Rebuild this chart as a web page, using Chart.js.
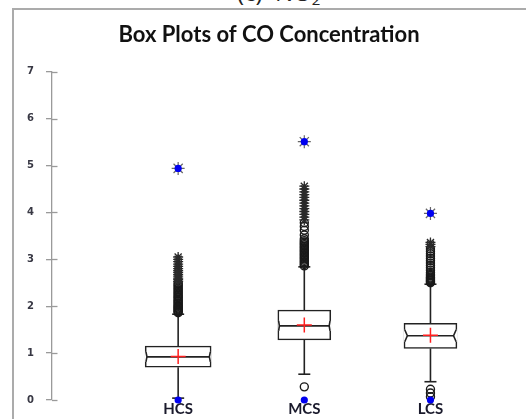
<!DOCTYPE html>
<html>
<head>
<meta charset="utf-8">
<script src="https://cdn.jsdelivr.net/npm/chart.js@4.4.1/dist/chart.umd.min.js"></script>
<style>
  html, body { margin: 0; padding: 0; background: #fff; overflow: hidden; }
  #wrap { position: relative; width: 526px; height: 419px; overflow: hidden; }
  #frame { position: absolute; left: 12px; top: 8px; width: 620px; height: 520px;
           border-left: 2px solid #ababab; border-top: 2px solid #ababab; }
  #caption { position: absolute; left: 237px; top: -20px; font: 24px "Open Sans", sans-serif;
             color: #222; white-space: nowrap; line-height: 24px; }
  #caption sub { font-size: 15px; vertical-align: -4px; }
  canvas { position: absolute; left: 0; top: 0; }
</style>
</head>
<body>
<div id="wrap">
  <div id="caption">(c)&nbsp;&nbsp;NO<sub>2</sub></div>
  <div id="frame"></div>
  <canvas id="c" width="526" height="419"></canvas>
</div>
<script>
// Site categories
const categories = ['HCS', 'MCS', 'LCS'];

// Box statistics for CO concentration (ppm)
const q1          = [0.70, 1.28, 1.10];
const median      = [0.92, 1.58, 1.37];
const q3          = [1.15, 1.92, 1.635];
const mean        = [0.93, 1.60, 1.38];
const whiskerLow  = [0.04, 0.55, 0.39];
const whiskerHigh = [1.83, 2.84, 2.47];
const minimum     = [0.00, 0.00, 0.00];
const maximum     = [4.94, 5.51, 3.98];

// Outliers beyond 1.5 IQR (circles)
const outliersHCS = [1.86, 1.88, 1.90, 1.92, 1.94, 1.96, 1.98, 2.00, 2.02, 2.05, 2.07, 2.10, 2.12,
                     2.15, 2.18, 2.20, 2.23, 2.26, 2.29, 2.32, 2.35, 2.38, 2.41, 2.44, 2.47, 2.50];
const outliersMCS = [0.28, 2.86, 2.89, 2.92, 2.95, 2.98, 3.01, 3.04, 3.07, 3.10, 3.13, 3.16, 3.19,
                     3.22, 3.25, 3.28, 3.31, 3.34, 3.37, 3.40, 3.44, 3.52, 3.62, 3.70, 3.78];
const outliersLCS = [0.07, 0.15, 0.23, 2.50, 2.52, 2.54, 2.56, 2.58, 2.60, 2.62, 2.65, 2.68, 2.72,
                     2.77, 2.82, 2.87, 2.92, 2.97, 3.02, 3.07, 3.12, 3.17, 3.22];

// Far outliers beyond 3 IQR (asterisks)
const farHCS = [2.53, 2.57, 2.60, 2.64, 2.68, 2.72, 2.76, 2.80, 2.85, 2.90, 2.95, 3.00, 3.05];
const farMCS = [3.84, 3.90, 3.96, 4.02, 4.08, 4.14, 4.20, 4.26, 4.32, 4.38, 4.44, 4.50, 4.56];
const farLCS = [3.27, 3.32, 3.36];

// Y-axis tick values
const yTicks = [0, 1, 2, 3, 4, 5, 6, 7];

// Drawing style
const INK = '#222';
const boxWidths = [66, 53, 53];      // px
const notchDepth = [1.0, 0.8, 2.6];  // px
const notchHalf = [5, 5, 6];         // px
const capHalf = 6;                   // px

const pos = i => i + 1;
const pts = (vals, i) => vals.map(v => ({ x: pos(i), y: v }));

const boxParts = {
  id: 'boxParts',
  afterDatasetDraw(chart, args) {
    if (args.index !== 0) return;
    const { ctx, scales: { x, y } } = chart;
    ctx.save();
    ctx.strokeStyle = INK;
    ctx.lineWidth = 1.6;
    const seg = (x1, y1, x2, y2) => { ctx.beginPath(); ctx.moveTo(x1, y1); ctx.lineTo(x2, y2); ctx.stroke(); };
    categories.forEach((c, i) => {
      const px = x.getPixelForValue(pos(i));
      const yq1 = y.getPixelForValue(q1[i]);
      const yq3 = y.getPixelForValue(q3[i]);
      const ymed = y.getPixelForValue(median[i]);
      const yhi = y.getPixelForValue(whiskerHigh[i]);
      const ylo = y.getPixelForValue(whiskerLow[i]);
      // whiskers and caps
      seg(px, yq3, px, yhi);
      seg(px - capHalf, yhi, px + capHalf, yhi);
      seg(px, yq1, px, ylo);
      seg(px - capHalf, ylo, px + capHalf, ylo);
      // notch around the median
      const edge = boxWidths[i] / 2 - 0.8;
      const d = notchDepth[i], h = notchHalf[i];
      ctx.fillStyle = '#fff';
      ctx.fillRect(px - edge - 1.1, ymed - h, 2.3, 2 * h);
      ctx.fillRect(px + edge - 1.2, ymed - h, 2.3, 2 * h);
      ctx.beginPath();
      ctx.moveTo(px - edge, ymed - h); ctx.lineTo(px - edge + d, ymed); ctx.lineTo(px - edge, ymed + h);
      ctx.moveTo(px + edge, ymed - h); ctx.lineTo(px + edge - d, ymed); ctx.lineTo(px + edge, ymed + h);
      ctx.stroke();
      // median
      seg(px - edge + d, ymed, px + edge - d, ymed);
    });
    ctx.restore();
  }
};

// Tick marks cross the axis: add the inner half
const innerTicks = {
  id: 'innerTicks',
  afterDraw(chart) {
    const { ctx, scales: { y } } = chart;
    ctx.save();
    ctx.strokeStyle = '#9a9a9a';
    ctx.lineWidth = 1.3;
    yTicks.forEach(v => {
      const py = Math.round(y.getPixelForValue(v)) + 0.5;
      ctx.beginPath(); ctx.moveTo(y.right, py); ctx.lineTo(y.right + 5.5, py); ctx.stroke();
    });
    ctx.restore();
  }
};

const pointBase = { type: 'scatter', clip: false, pointHoverRadius: 0 };

new Chart(document.getElementById('c'), {
  type: 'bar',
  data: {
    datasets: [
      { type: 'bar', order: 10, data: [{ x: pos(0), y: [q1[0], q3[0]] }],
        barThickness: boxWidths[0], grouped: false, backgroundColor: '#fff',
        borderColor: INK, borderWidth: 1.6, borderSkipped: false },
      { type: 'bar', order: 10, data: [{ x: pos(1), y: [q1[1], q3[1]] }, { x: pos(2), y: [q1[2], q3[2]] }],
        barThickness: boxWidths[1], grouped: false, backgroundColor: '#fff',
        borderColor: INK, borderWidth: 1.6, borderSkipped: false },
      { ...pointBase, order: 4,
        data: [...pts(outliersHCS, 0), ...pts(outliersMCS, 1), ...pts(outliersLCS, 2)],
        pointStyle: 'circle', pointRadius: 4, pointBorderWidth: 1.4,
        pointBorderColor: '#1a1a1a', pointBackgroundColor: 'rgba(0,0,0,0)' },
      { ...pointBase, order: 3,
        data: [...pts(farHCS, 0), ...pts(farMCS, 1), ...pts(farLCS, 2)],
        pointStyle: 'star', pointRadius: 5, pointBorderWidth: 1.3, pointBorderColor: '#2a2a2a' },
      { ...pointBase, order: 2,
        data: categories.map((c, i) => ({ x: pos(i), y: mean[i] })),
        pointStyle: 'cross', pointRadius: 7.5, pointBorderWidth: 1.5, pointBorderColor: '#ff1f1f' },
      { ...pointBase, order: 1,
        data: categories.map((c, i) => ({ x: pos(i), y: maximum[i] })),
        pointStyle: 'star', pointRadius: 6.5, pointBorderWidth: 1.2, pointBorderColor: '#666' },
      { ...pointBase, order: 0,
        data: [...categories.map((c, i) => ({ x: pos(i), y: maximum[i] })),
               ...categories.map((c, i) => ({ x: pos(i), y: minimum[i] }))],
        pointStyle: 'circle', pointRadius: 3.6, pointBorderWidth: 0,
        pointBackgroundColor: '#0000f0' }
    ]
  },
  options: {
    responsive: false,
    animation: false,
    devicePixelRatio: 1,
    layout: { padding: { left: 12, right: 0, top: 0, bottom: 0 } },
    plugins: {
      legend: { display: false },
      tooltip: { enabled: false },
      title: {
        display: true,
        text: 'Box Plots of CO Concentration',
        color: '#111',
        font: { family: 'Lato', size: 22, weight: 'bold' },
        lineHeight: 1.2,
        padding: { top: 22, bottom: 23.4 }
      }
    },
    scales: {
      x: {
        type: 'linear', min: 0, max: 3.686, offset: false,
        grid: { display: false, drawTicks: false },
        border: { display: false },
        afterBuildTicks: s => { s.ticks = categories.map((c, i) => ({ value: pos(i) })); },
        afterFit: s => { s.height = 19; },
        ticks: {
          autoSkip: false, maxRotation: 0, padding: 0, color: '#1a1a2c',
          font: { family: 'Lato', size: 15, weight: 'bold' },
          callback: v => categories[v - 1] ?? ''
        }
      },
      y: {
        type: 'linear', min: 0, max: 7,
        afterBuildTicks: s => { s.ticks = yTicks.map(v => ({ value: v })); },
        afterFit: s => { s.width = 40; },
        grid: { drawOnChartArea: false, drawTicks: true, tickLength: 6, color: '#9a9a9a', lineWidth: 1.3 },
        border: { display: true, color: '#9a9a9a', width: 1.3 },
        ticks: { padding: 12, color: '#383844', font: { family: 'DejaVu Sans', size: 10, weight: 'bold' } }
      }
    }
  },
  plugins: [boxParts, innerTicks]
});
</script>
</body>
</html>
